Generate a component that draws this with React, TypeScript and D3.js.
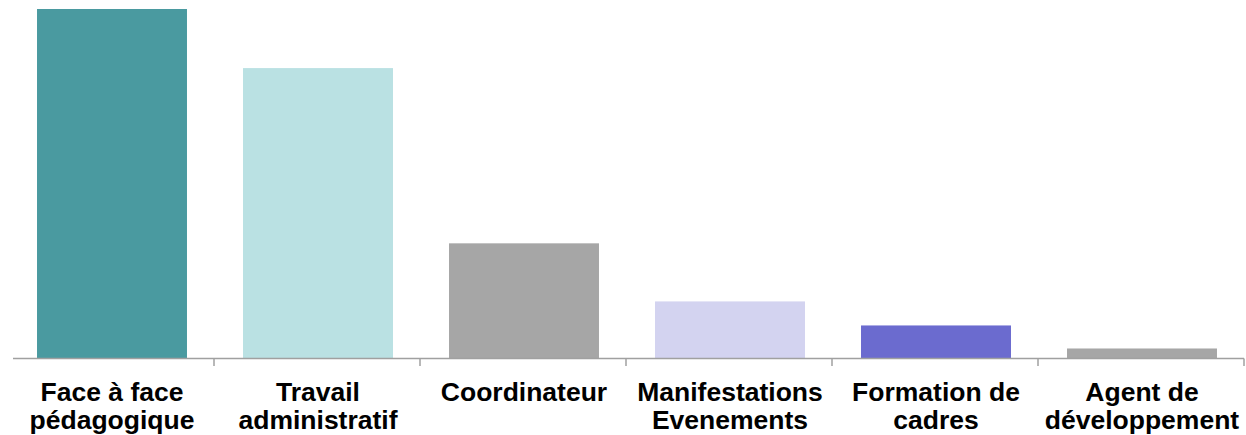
import React from "react";
import * as d3 from "d3";

const categories: string[][] = [
  ["Face à face", "pédagogique"],
  ["Travail", "administratif"],
  ["Coordinateur"],
  ["Manifestations", "Evenements"],
  ["Formation de", "cadres"],
  ["Agent de", "développement"],
];
const values: number[] = [34.9, 29.0, 11.5, 5.7, 3.3, 1.0];
const colors: string[] = ["#4a9aa0", "#bae1e3", "#a6a6a6", "#d3d3f0", "#6b6bcf", "#a6a6a6"];

export default function App() {
  const W = 1246, H = 435;
  const x0 = 9, x1 = 1245;
  const x = d3.scaleBand<number>().domain(d3.range(categories.length)).range([x0, x1]).paddingInner(0.272).paddingOuter(0.136);
  const band = (x1 - x0) / categories.length;
  const y = d3.scaleLinear().domain([0, 34.9]).range([358.5, 9]);
  return (
    <svg width={W} height={H} style={{ position: "absolute", left: 0, top: 0, background: "#fff" }}>
      {values.map((v, i) => (
        <rect key={i} x={x(i)} y={y(v)} width={x.bandwidth()} height={y(0) - y(v)} fill={colors[i]} />
      ))}
      <line x1={13} x2={1244} y1={358.5} y2={358.5} stroke="#a0a0a0" strokeWidth={1.5} />
      {d3.range(1, categories.length + 1).map((i) => (
        <line key={i} x1={x0 - 1 + band * i} x2={x0 - 1 + band * i} y1={358.5} y2={366} stroke="#a0a0a0" strokeWidth={1.5} />
      ))}
      {categories.map((lines, i) => {
        const cx = (x(i) as number) + x.bandwidth() / 2;
        return (
          <text key={i} textAnchor="middle" fontFamily="'Liberation Sans', Arial, sans-serif" fontWeight="bold" fontSize={26.5} fill="#000">
            {lines.map((l, j) => (
              <tspan key={j} x={cx} y={400.5 + j * 28.5}>{l}</tspan>
            ))}
          </text>
        );
      })}
    </svg>
  );
}
